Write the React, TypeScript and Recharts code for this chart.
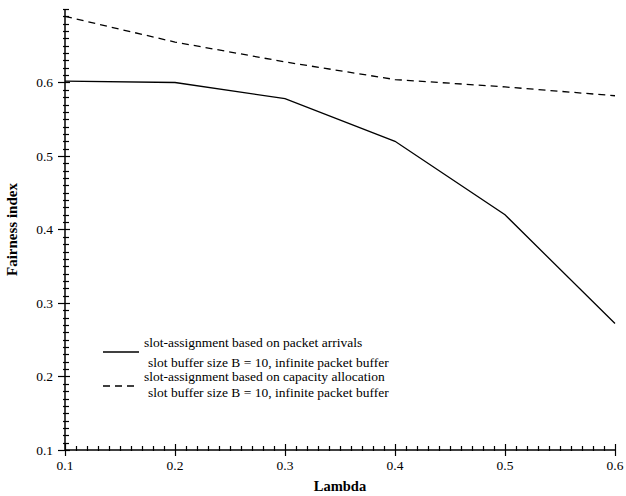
import React from 'react';
import { LineChart, Line, XAxis, YAxis } from 'recharts';

const lambdas = [0.1, 0.2, 0.3, 0.4, 0.5, 0.6];
const arrivalsFairness = [0.602, 0.6, 0.578, 0.52, 0.42, 0.272];
const capacityFairness = [0.69, 0.655, 0.628, 0.604, 0.594, 0.582];

const xTicks = Array.from({ length: 51 }, (_, i) => +(0.1 + i * 0.01).toFixed(2));
const yTicks = Array.from({ length: 61 }, (_, i) => +(0.1 + i * 0.01).toFixed(2));
const majorTicks = [0.1, 0.2, 0.3, 0.4, 0.5, 0.6];

const data = lambdas.map((l, i) => ({
  lambda: l,
  arrivals: arrivalsFairness[i],
  capacity: capacityFairness[i],
}));

const font = '"Liberation Serif", "Times New Roman", serif';
const isMajor = (v: number) => majorTicks.some((m) => Math.abs(m - v) < 1e-6);

const XTick = (props: any) => {
  const { x, y, payload } = props;
  const major = isMajor(payload.value);
  const px = Math.round(x) + 0.5;
  return (
    <g>
      <line x1={px} x2={px} y1={y - (major ? 6 : 4)} y2={y + (major ? 6 : 1)} stroke="#000" strokeWidth={1.2} />
      {major && (
        <text x={x} y={y + 20} textAnchor="middle" fontFamily={font} fontSize={13.5} fill="#000">
          {payload.value.toFixed(1)}
        </text>
      )}
    </g>
  );
};

const YTick = (props: any) => {
  const { x, y, payload } = props;
  const major = isMajor(payload.value);
  const py = Math.round(y) + 0.5;
  return (
    <g>
      <line x1={x - (major ? 7 : 2)} x2={x + (major ? 5 : 4)} y1={py} y2={py} stroke="#000" strokeWidth={1.2} />
      {major && (
        <text x={x - 12} y={y + 4.5} textAnchor="end" fontFamily={font} fontSize={13.5} fill="#000">
          {payload.value.toFixed(1)}
        </text>
      )}
    </g>
  );
};

const LegendBox = () => (
  <svg width={340} height={70} style={{ overflow: 'visible', display: 'block' }}>
    <line x1={0} x2={36} y1={14} y2={14} stroke="#000" strokeWidth={1.3} />
    <text x={41} y={9} fontFamily={font} fontSize={13.5} fill="#000">slot-assignment based on packet arrivals</text>
    <text x={45} y={29} fontFamily={font} fontSize={13.5} fill="#000">slot buffer size B = 10, infinite packet buffer</text>
    <line x1={0} x2={36} y1={48} y2={48} stroke="#000" strokeWidth={1.3} strokeDasharray="7 5" />
    <text x={41} y={43} fontFamily={font} fontSize={13.5} fill="#000">slot-assignment based on capacity allocation</text>
    <text x={45} y={59} fontFamily={font} fontSize={13.5} fill="#000">slot buffer size B = 10, infinite packet buffer</text>
  </svg>
);

export default function App() {
  return (
    <div style={{ position: 'absolute', left: 0, top: 0, width: 626, height: 496, background: '#fff' }}>
      <LineChart width={626} height={496} data={data} margin={{ top: 9, right: 11, left: 5, bottom: 6 }}>
        <XAxis
          dataKey="lambda"
          type="number"
          domain={[0.1, 0.6]}
          ticks={xTicks}
          interval={0}
          tick={<XTick />}
          tickLine={false}
          tickSize={0}
          tickMargin={0}
          height={40}
          axisLine={{ stroke: '#000', strokeWidth: 1.5 }}
          label={{ value: 'Lambda', position: 'insideBottom', offset: -1, fontFamily: font, fontSize: 14.5, fontWeight: 'bold', fill: '#000' }}
        />
        <XAxis xAxisId="top" dataKey="lambda" type="number" domain={[0.1, 0.6]} orientation="top" height={0} tick={false} tickLine={false} axisLine={{ stroke: '#000', strokeWidth: 1.5 }} />
        <YAxis
          type="number"
          domain={[0.1, 0.7]}
          ticks={yTicks}
          interval={0}
          tick={<YTick />}
          tickLine={false}
          tickSize={0}
          tickMargin={0}
          width={60}
          axisLine={{ stroke: '#000', strokeWidth: 1.5 }}
          label={{ value: 'Fairness index', angle: -90, position: 'insideLeft', offset: 7, fontFamily: font, fontSize: 15, fontWeight: 'bold', fill: '#000', style: { textAnchor: 'middle' } }}
        />
        <YAxis yAxisId="right" orientation="right" domain={[0.1, 0.7]} width={0} tick={false} tickLine={false} axisLine={{ stroke: '#000', strokeWidth: 1.5 }} />
        <Line dataKey="arrivals" stroke="#000" strokeWidth={1.3} dot={false} isAnimationActive={false} type="linear" />
        <Line dataKey="capacity" stroke="#000" strokeWidth={1.3} strokeDasharray="7 5" dot={false} isAnimationActive={false} type="linear" />
      </LineChart>
      <div style={{ position: 'absolute', left: 103, top: 338 }}>
        <LegendBox />
      </div>
    </div>
  );
}
